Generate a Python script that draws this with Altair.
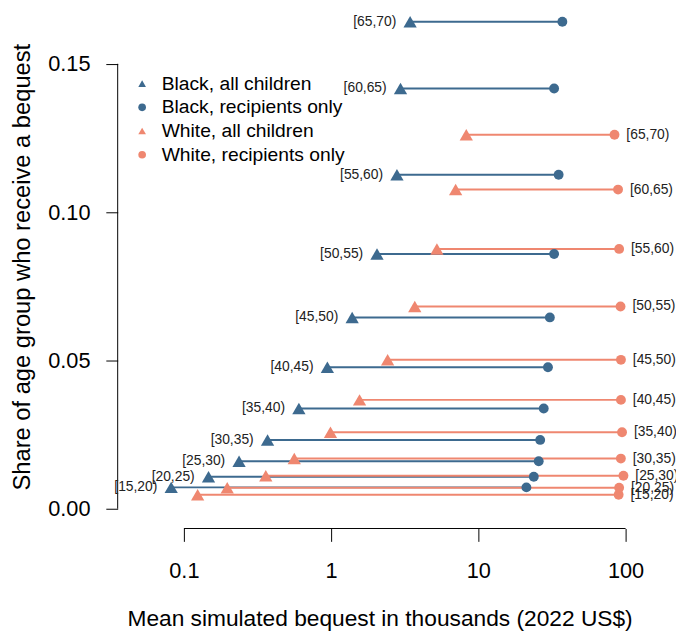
import altair as alt
import pandas as pd

ages = ["[15,20)", "[20,25)", "[25,30)", "[30,35)", "[35,40)", "[40,45)",
        "[45,50)", "[50,55)", "[55,60)", "[60,65)", "[65,70)"]

black_share = [0.0072, 0.0108, 0.0160, 0.0232, 0.0338, 0.0477, 0.0645, 0.0859, 0.1126, 0.1417, 0.1642]
black_all = [0.082, 0.147, 0.237, 0.370, 0.604, 0.943, 1.39, 2.05, 2.80, 2.96, 3.44]
black_recip = [21.2, 23.8, 25.7, 26.3, 27.8, 29.7, 30.6, 32.7, 35.1, 32.7, 37.2]

white_share = [0.0047, 0.0071, 0.0111, 0.0169, 0.0258, 0.0367, 0.0502, 0.0682, 0.0876, 0.1076, 0.1261]
white_all = [0.124, 0.197, 0.360, 0.562, 0.99, 1.56, 2.42, 3.70, 5.23, 7.01, 8.28]
white_recip = [89.7, 90.4, 96.7, 92.9, 94.6, 93.0, 93.0, 92.4, 90.4, 88.9, 84.1]

series_names = ["Black, all children", "Black, recipients only",
                "White, all children", "White, recipients only"]
x_ticks = [0.1, 1, 10, 100]
y_ticks = [0.0, 0.05, 0.10, 0.15]

BLUE = "#3d6a8f"
SALMON = "#ef8770"
FONT = "Liberation Sans"

n = len(ages)
black = pd.DataFrame({"age": ages, "share": black_share, "all": black_all, "recip": black_recip})
white = pd.DataFrame({"age": ages, "share": white_share, "all": white_all, "recip": white_recip})

tri = pd.DataFrame({
    "age": ages * 2,
    "share": black_share + white_share,
    "value": black_all + white_all,
    "series": [series_names[0]] * n + [series_names[2]] * n,
})
circ = pd.DataFrame({
    "age": ages * 2,
    "share": black_share + white_share,
    "value": black_recip + white_recip,
    "series": [series_names[1]] * n + [series_names[3]] * n,
})

W, H = 530, 523
xs = alt.Scale(type="log", domain=[0.03551, 128.1], nice=False)
ys = alt.Scale(domain=[-0.00667, 0.16757], nice=False, zero=False)

XT = "Mean simulated bequest in thousands (2022 US$)"
YT = "Share of age group who receive a bequest"

x_axis = alt.Axis(values=x_ticks, format="~g", domain=False, grid=False,
                  tickSize=13, tickColor="black", tickWidth=1,
                  labelFontSize=22, labelColor="black", labelPadding=20,
                  labelFont=FONT, title=XT,
                  titleFont=FONT, titleFontSize=23, titleFontWeight="normal",
                  titleColor="black", titleX=265, titleY=98.5, titleBaseline="alphabetic",
                  titleAlign="center")
y_axis = alt.Axis(values=y_ticks, format=".2f", domain=False, grid=False,
                  tickSize=12, tickColor="black", tickWidth=1,
                  labelFontSize=22, labelColor="black", labelPadding=16,
                  labelFont=FONT, title=YT,
                  titleFont=FONT, titleFontSize=24, titleFontWeight="normal",
                  titleColor="black", titleX=-96, titleY=258, titleAngle=-90,
                  titleBaseline="middle", titleAlign="center")

legend = alt.Legend(title=None, orient="none", legendX=15, legendY=63,
                    labelFontSize=19.5, labelFont=FONT, labelColor="black", labelLimit=0,
                    symbolSize=60, labelOffset=10, rowPadding=3, padding=0,
                    symbolStrokeWidth=0)
color_scale = alt.Scale(domain=series_names, range=[BLUE, BLUE, SALMON, SALMON])
shape_scale = alt.Scale(domain=series_names, range=["triangle-up", "circle", "triangle-up", "circle"])


def X(field):
    return alt.X(field, type="quantitative", scale=xs, axis=x_axis, title=XT)


def Y(field):
    return alt.Y(field, type="quantitative", scale=ys, axis=y_axis, title=YT)


# dumbbell lines
black_lines = alt.Chart(black).mark_rule(color=BLUE, strokeWidth=2).encode(
    x=X("all"), x2="recip:Q", y=Y("share"),
)
white_lines = alt.Chart(white).mark_rule(color=SALMON, strokeWidth=2).encode(
    x=X("all"), x2="recip:Q", y=Y("share"),
)

tri_pts = alt.Chart(tri).mark_point(filled=True, opacity=1, size=180, strokeWidth=0).encode(
    x=X("value"), y=Y("share"),
    color=alt.Color("series:N", scale=color_scale, legend=legend),
    shape=alt.Shape("series:N", scale=shape_scale, legend=legend),
)
circ_pts = alt.Chart(circ).mark_point(filled=True, opacity=1, size=100, strokeWidth=0).encode(
    x=X("value"), y=Y("share"),
    color=alt.Color("series:N", scale=color_scale, legend=legend),
    shape=alt.Shape("series:N", scale=shape_scale, legend=legend),
)

black_labels = alt.Chart(black).mark_text(align="right", baseline="middle", dx=-14,
                                          fontSize=14, font=FONT, color="#222222").encode(
    x=X("all"), y=Y("share"), text="age:N",
)
white_labels = alt.Chart(white).mark_text(align="left", baseline="middle", dx=12,
                                          fontSize=14, font=FONT, color="#222222").encode(
    x=X("recip"), y=Y("share"), text="age:N",
)

# R-style axis lines spanning only the tick range
ends = pd.DataFrame({"x0": [x_ticks[0]], "x1": [x_ticks[-1]], "y0": [y_ticks[0]], "y1": [y_ticks[-1]]})
xline = alt.Chart(ends).mark_rule(color="black", strokeWidth=1).encode(
    x=X("x0"), x2="x1:Q", y=alt.value(H),
)
yline = alt.Chart(ends).mark_rule(color="black", strokeWidth=1).encode(
    y=Y("y0"), y2="y1:Q", x=alt.value(0),
)

chart = alt.layer(
    black_lines, white_lines, xline, yline, tri_pts, circ_pts, black_labels, white_labels
).properties(
    width=W, height=H,
    autosize=alt.AutoSizeParams(type="none"),
    padding={"left": 111, "top": 0, "right": 35, "bottom": 103},
).configure(font=FONT).configure_view(strokeWidth=0)

chart.save("out.html", embed_options={"renderer": "svg", "actions": False})
